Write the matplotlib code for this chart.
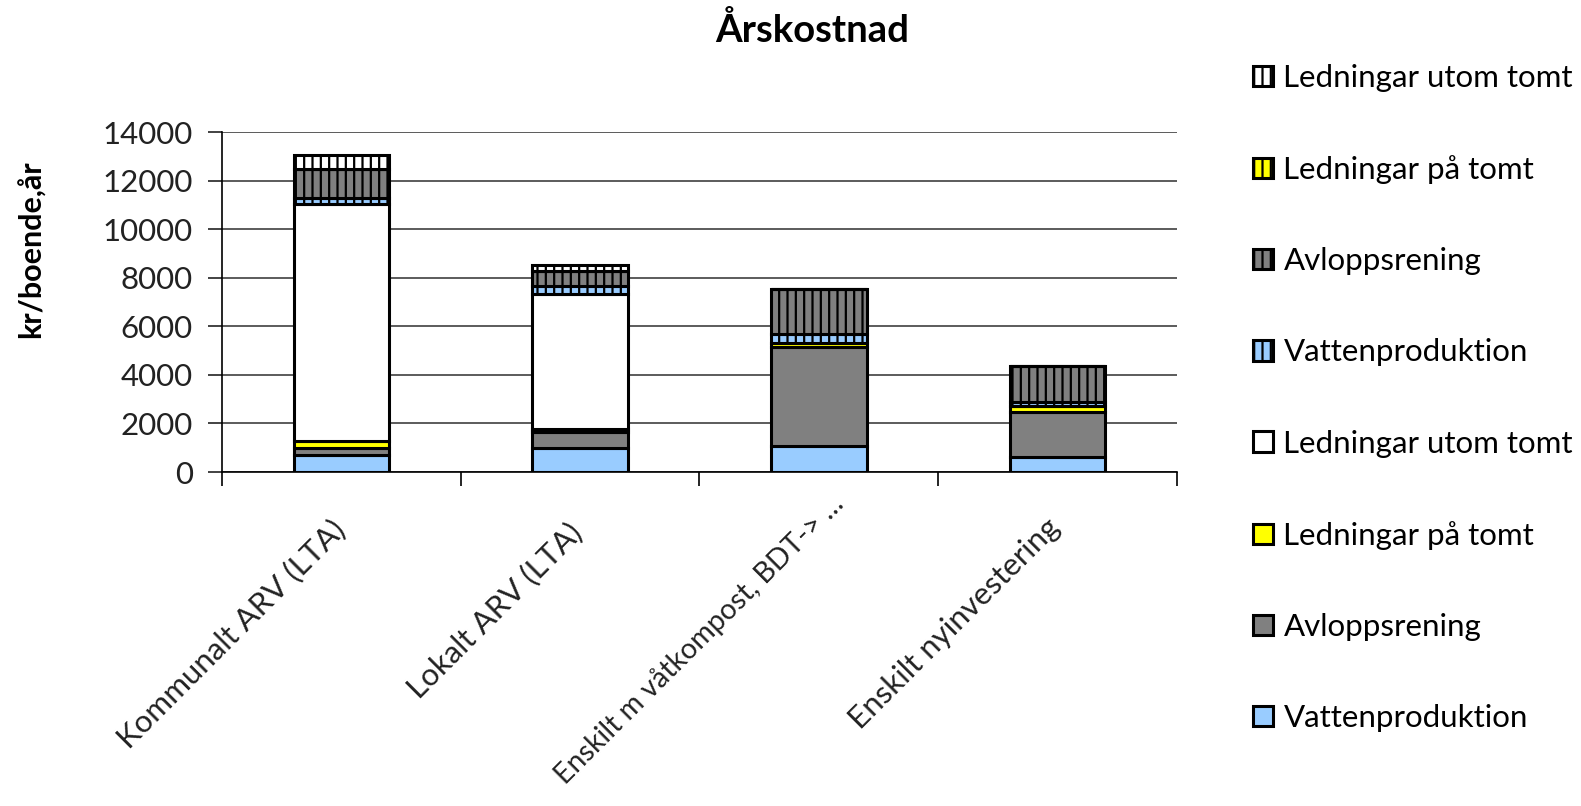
import matplotlib.pyplot as plt
import numpy as np

categories = ['Kommunalt ARV (LTA)', 'Lokalt ARV (LTA)',
              'Enskilt m våtkompost, BDT-> …', 'Enskilt nyinvestering']

# plain parts (bottom) and hatched parts (top), kr/boende,år
vatten = [700, 1000, 1070, 630]
avlopp = [270, 660, 4070, 1860]
led_pa = [300, 120, 190, 210]
led_utom = [9760, 5560, 0, 0]
vatten_h = [250, 310, 350, 200]
avlopp_h = [1200, 610, 1860, 1470]
led_pa_h = [0, 0, 0, 0]
led_utom_h = [590, 250, 0, 0]

series = [
    ('Vattenproduktion', vatten, '#99ccff', None),
    ('Avloppsrening', avlopp, '#808080', None),
    ('Ledningar på tomt', led_pa, '#ffff00', None),
    ('Ledningar utom tomt', led_utom, '#ffffff', None),
    ('Vattenproduktion', vatten_h, '#99ccff', '||'),
    ('Avloppsrening', avlopp_h, '#808080', '||'),
    ('Ledningar på tomt', led_pa_h, '#ffff00', '||'),
    ('Ledningar utom tomt', led_utom_h, '#ffffff', '||'),
]

plt.rcParams['font.family'] = ['Lato', 'DejaVu Sans']
plt.rcParams['hatch.linewidth'] = 1.6

fig = plt.figure(figsize=(15.81, 8.06), dpi=100)
ax = fig.add_axes([222 / 1581, 1 - 472 / 806, 955 / 1581, 340 / 806])

x = np.arange(len(categories))
bottom = np.zeros(len(categories))
handles = []
for name, vals, color, hatch in series:
    b = ax.bar(x, vals, 0.4, bottom=bottom, color=color, edgecolor='black',
               linewidth=2.2, hatch=hatch, label=name, zorder=3)
    handles.append(b)
    bottom += np.array(vals)

ax.set_ylim(0, 14000)
ax.set_xlim(-0.5, len(categories) - 0.5)
ax.set_yticks(range(0, 14001, 2000))
ax.yaxis.grid(True, color='#404040', linewidth=1.2, zorder=0)
for s in ['top', 'right']:
    ax.spines[s].set_visible(False)
ax.spines['left'].set_linewidth(1.2)
ax.spines['bottom'].set_linewidth(1.2)
ax.tick_params(axis='y', labelsize=22.5, length=10, width=1.2, pad=11, colors='#222222')
ax.set_xticks(np.arange(-0.5, len(categories)))
ax.set_xticklabels([])
ax.tick_params(axis='x', length=10, width=1.2)

# offsets (points) of the baseline end of each rotated label from its category
label_offsets = [(4.3, -43), (2.9, -45.4), (19, -24), (2.9, -41)]
label_sizes = [22.5, 22.5, 20.5, 22.5]
for i, c in enumerate(categories):
    ax.annotate(c, xy=(i, 0), xytext=label_offsets[i], textcoords='offset points',
                ha='right', va='baseline', rotation=45, rotation_mode='anchor',
                fontsize=label_sizes[i], color='#222222', annotation_clip=False)

fig.text(812 / 1581, 1 - 30 / 806, 'Årskostnad', ha='center', va='center',
         fontsize=27.5, fontweight='bold')
fig.text(32 / 1581, 1 - 249 / 806, 'kr/boende,år', ha='center', va='center',
         rotation=90, fontsize=22, fontweight='bold')

leg = fig.legend(handles[::-1], [h.get_label() for h in handles[::-1]],
                 loc='upper left', bbox_to_anchor=(1225 / 1581, 1 - 36 / 806),
                 frameon=False, fontsize=22.5, labelspacing=2.02,
                 handlelength=0.62, handleheight=0.62, handletextpad=0.35)

fig.savefig('out.png', dpi=100)
